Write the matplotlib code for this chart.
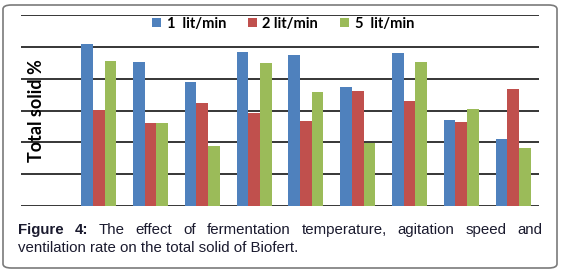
import numpy as np
import matplotlib
matplotlib.use('Agg')
import matplotlib.pyplot as plt
from matplotlib.patches import FancyBboxPatch

# values (gridline spacing = 1 unit)
runs = np.arange(1, 10)
flow_labels = ['1  lit/min', '2 lit/min', '5  lit/min']
flow_1 = [5.09, 4.53, 3.90, 4.85, 4.75, 3.75, 4.81, 2.71, 2.12]
flow_2 = [3.03, 2.62, 3.25, 2.93, 2.66, 3.62, 3.31, 2.65, 3.68]
flow_5 = [4.56, 2.62, 1.87, 4.50, 3.59, 1.99, 4.53, 3.06, 1.81]
colors = ['#4F81BD', '#C0504D', '#9BBB59']

W, H = 565, 273
fig = plt.figure(figsize=(W / 100, H / 100), dpi=100)

# rounded frame around the whole figure
frame = FancyBboxPatch((3 / W, 5 / H), 554 / W, 263 / H,
                       boxstyle='round,pad=0,rounding_size=0.015',
                       transform=fig.transFigure, fc='none', ec='#7a7a7a', lw=1.2,
                       zorder=-1)
fig.patches.append(frame)

ax = fig.add_axes([21 / W, (H - 206) / H, 518 / W, 191 / H])
ax.patch.set_alpha(0)
bw = 0.225
for k, vals in enumerate([flow_1, flow_2, flow_5]):
    ax.bar(runs + (k - 1) * bw, vals, width=bw, color=colors[k], label=flow_labels[k], zorder=3)

ax.set_xlim(-0.5, 9.5)
ax.set_ylim(0, 6)
ax.set_yticks(range(7))
ax.set_xticks([])
ax.yaxis.grid(True, color='black', lw=1.1)
ax.set_axisbelow(True)
ax.tick_params(length=0, labelleft=False)
for s in ax.spines.values():
    s.set_visible(False)

leg = ax.legend(loc='center', bbox_to_anchor=(283 / W, (H - 24) / H),
                bbox_transform=fig.transFigure, ncol=3, frameon=False,
                prop={'family': 'Lato', 'weight': 'bold', 'size': 10.5},
                handlelength=0.6, handleheight=0.6, handletextpad=0.4,
                columnspacing=1.5, borderpad=0)

fig.text(36 / W, (H - 111) / H, 'Total solid %', rotation=90, ha='center', va='center',
         family='Lato', weight='bold', size=13)

# caption, first line justified between x=18 and x=542
renderer = fig.canvas.get_renderer()
line1 = [('Figure', 'bold'), ('4:', 'bold'), ('The', 'normal'), ('effect', 'normal'),
         ('of', 'normal'), ('fermentation', 'normal'), ('temperature,', 'normal'),
         ('agitation', 'normal'), ('speed', 'normal'), ('and', 'normal')]
cap_kw = dict(family='Liberation Sans', size=10.8, va='baseline', color='#1a1a2e')
texts = [fig.text(0, (H - 234) / H, w, weight=wt, **cap_kw) for w, wt in line1]
widths = [t.get_window_extent(renderer).width for t in texts]
gap = (542 - 18 - sum(widths)) / (len(texts) - 1)
x = 18
for t, w in zip(texts, widths):
    t.set_x(x / W)
    x += w + gap
fig.text(18 / W, (H - 252) / H, 'ventilation rate on the total solid of Biofert.', **cap_kw)

fig.savefig('out.png', dpi=100)
